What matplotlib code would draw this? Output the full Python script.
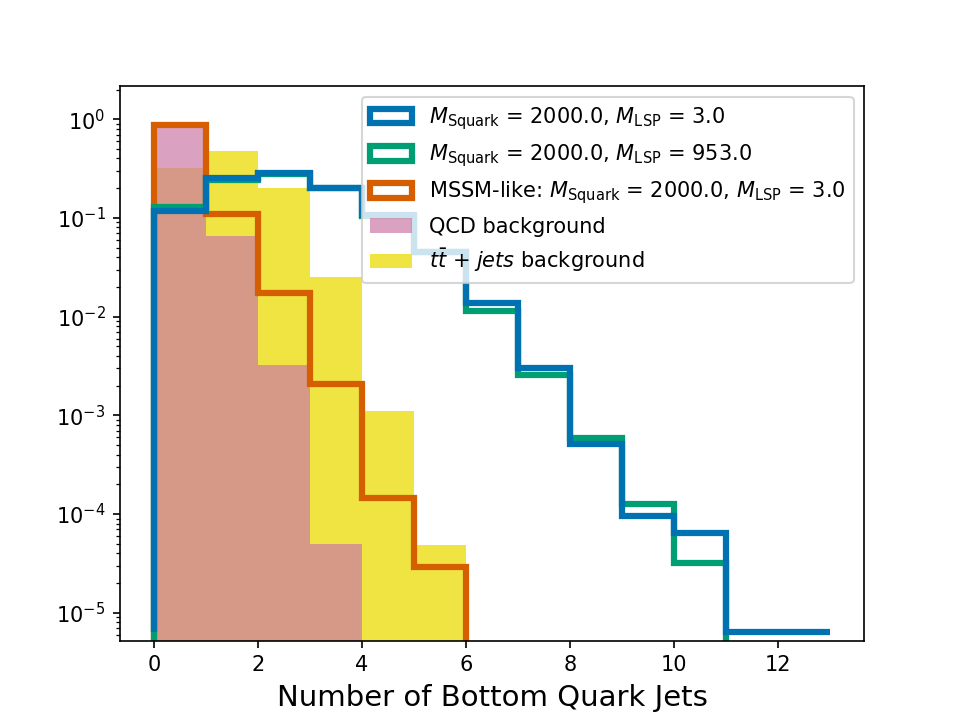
import numpy as np
import matplotlib
matplotlib.use('Agg')
import matplotlib.pyplot as plt
import matplotlib.patches as mpatches

# bin edges: number of b-jets 0..13
bin_edges = np.arange(0, 14)

# normalised fractions per bin
sig_lsp3 = [0.118, 0.255, 0.283, 0.200, 0.107, 0.0454, 0.0136, 0.0030,
            5.1e-4, 9.6e-5, 6.4e-5, 0, 0]
sig_lsp953 = [0.128, 0.243, 0.280, 0.200, 0.105, 0.045, 0.0114, 0.00257,
              5.9e-4, 1.26e-4, 3.16e-5, 0, 0]
sig_mssm = [0.876, 0.110, 0.0173, 0.0021, 1.45e-4, 2.9e-5, 0, 0,
            0, 0, 0, 0, 0]
qcd_bkg = [0.93, 0.066, 0.0032, 5.0e-5, 0, 0, 0, 0, 0, 0, 0, 0, 0]
ttbar_bkg = [0.32, 0.474, 0.201, 0.0251, 0.00111, 4.9e-5, 0, 0, 0, 0, 0, 0, 0]

labels = [r'$M_{\rm Squark}$ = 2000.0, $M_{\rm LSP}$ = 3.0',
          r'$M_{\rm Squark}$ = 2000.0, $M_{\rm LSP}$ = 953.0',
          r'MSSM-like: $M_{\rm Squark}$ = 2000.0, $M_{\rm LSP}$ = 3.0',
          'QCD background',
          r'$t\bar{t}$ + $jets$ background']
colors = ['#0072B2', '#009E73', '#D55E00', '#CC79A7', '#F0E442']

fig, ax = plt.subplots(figsize=(6.4, 4.8), dpi=150)

# backgrounds as filled bars
ax.bar(bin_edges[:-1], ttbar_bkg, width=1, align='edge', color=colors[4], alpha=1.0, lw=0)
ax.bar(bin_edges[:-1], qcd_bkg, width=1, align='edge', color=colors[3], alpha=0.7, lw=0)

# signal step histograms, zero bins clipped to (min nonzero)/10 like old mpl log hist
for vals, c in zip([sig_mssm, sig_lsp953, sig_lsp3], [colors[2], colors[1], colors[0]]):
    vals = np.array(vals)
    floor = vals[vals > 0].min() / 10
    ax.stairs(np.maximum(vals, floor), bin_edges, baseline=floor, fill=False,
              color=c, lw=3)

ax.set_yscale('log')
ax.set_ylim(5.2e-6, 2.15)
ax.set_xlabel('Number of Bottom Quark Jets', fontsize=14)

handles = [mpatches.Patch(facecolor='white', edgecolor=colors[0], lw=3, label=labels[0]),
           mpatches.Patch(facecolor='white', edgecolor=colors[1], lw=3, label=labels[1]),
           mpatches.Patch(facecolor='white', edgecolor=colors[2], lw=3, label=labels[2]),
           mpatches.Patch(facecolor=colors[3], alpha=0.7, label=labels[3]),
           mpatches.Patch(facecolor=colors[4], label=labels[4])]
ax.legend(handles=handles, loc='upper right')

plt.savefig('out.png')
